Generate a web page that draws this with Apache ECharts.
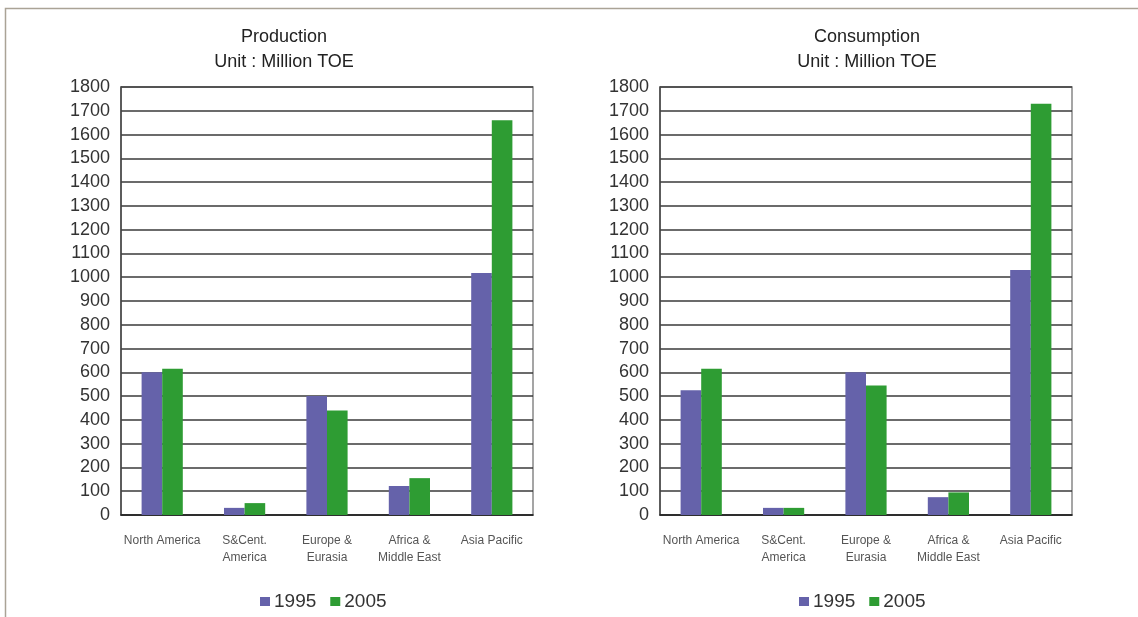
<!DOCTYPE html>
<html>
<head>
<meta charset="utf-8">
<script src="https://cdn.jsdelivr.net/npm/echarts@6/dist/echarts.min.js"></script>
<style>
  html, body { margin: 0; padding: 0; background: #fff; }
  #chart { width: 1138px; height: 617px; }
</style>
</head>
<body>
<div id="chart"></div>
<script>
// Regional energy production and consumption, Million TOE
const regions = ['North America', 'S&Cent.\nAmerica', 'Europe &\nEurasia', 'Africa &\nMiddle East', 'Asia Pacific'];
const years = ['1995', '2005'];
const production1995 = [600, 30, 500, 122, 1018];
const production2005 = [615, 50, 440, 155, 1660];
const consumption1995 = [525, 30, 600, 75, 1030];
const consumption2005 = [615, 30, 545, 95, 1730];
const yTicks = { min: 0, max: 1800, interval: 100 };

const FONT = '"Liberation Sans", Arial, sans-serif';
const colors = ['#6562aa', '#2e9c33'];

function xAxisFor(gridIndex) {
  return {
    type: 'category', gridIndex, data: regions,
    axisLine: { lineStyle: { color: '#222', width: 1.5 } },
    axisTick: { show: false },
    axisLabel: { color: '#555', fontSize: 12, fontFamily: FONT, lineHeight: 17, margin: 17, interval: 0 }
  };
}
function yAxisFor(gridIndex) {
  return {
    type: 'value', gridIndex, min: yTicks.min, max: yTicks.max, interval: yTicks.interval,
    axisLine: { show: true, lineStyle: { color: '#444', width: 1.5 } },
    axisTick: { show: false },
    axisLabel: { color: '#333', fontSize: 18, fontFamily: FONT, margin: 11, formatter: v => String(v) },
    splitLine: { lineStyle: { color: '#3a3a3a', width: 1.5 } }
  };
}
function barSeries(name, data, idx, colorIdx) {
  return {
    name, type: 'bar', data, xAxisIndex: idx, yAxisIndex: idx,
    barGap: '0%', barCategoryGap: '50%',
    itemStyle: { color: colors[colorIdx] },
    emphasis: { disabled: true }
  };
}
function legendAt(left) {
  return {
    data: years, left, top: 587, itemWidth: 10, itemHeight: 9, itemGap: 14,
    icon: 'rect',
    textStyle: { fontSize: 19, color: '#333', fontFamily: FONT, padding: [0, 0, 0, -1] }
  };
}
function titleAt(x, text) {
  return {
    text, left: x, top: 20, textAlign: 'center',
    textStyle: { fontSize: 18, fontWeight: 'normal', color: '#222', fontFamily: FONT, lineHeight: 25 }
  };
}

const chart = echarts.init(document.getElementById('chart'), null, { renderer: 'canvas' });
chart.setOption({
  animation: false,
  backgroundColor: '#fff',
  title: [
    titleAt(279, 'Production\nUnit : Million TOE'),
    titleAt(862, 'Consumption\nUnit : Million TOE')
  ],
  legend: [legendAt(255), legendAt(794)],
  grid: [
    { left: 121, top: 87, width: 412, height: 428, show: true, borderColor: '#888', borderWidth: 1.5 },
    { left: 660, top: 87, width: 412, height: 428, show: true, borderColor: '#888', borderWidth: 1.5 }
  ],
  xAxis: [xAxisFor(0), xAxisFor(1)],
  yAxis: [yAxisFor(0), yAxisFor(1)],
  series: [
    barSeries('1995', production1995, 0, 0),
    barSeries('2005', production2005, 0, 1),
    barSeries('1995', consumption1995, 1, 0),
    barSeries('2005', consumption2005, 1, 1)
  ],
  graphic: [{
    type: 'polyline', silent: true,
    shape: { points: [[5.5, 617], [5.5, 8.5], [1138, 8.5]] },
    style: { stroke: '#aaa396', lineWidth: 1.5, fill: null }
  }]
});
</script>
</body>
</html>
